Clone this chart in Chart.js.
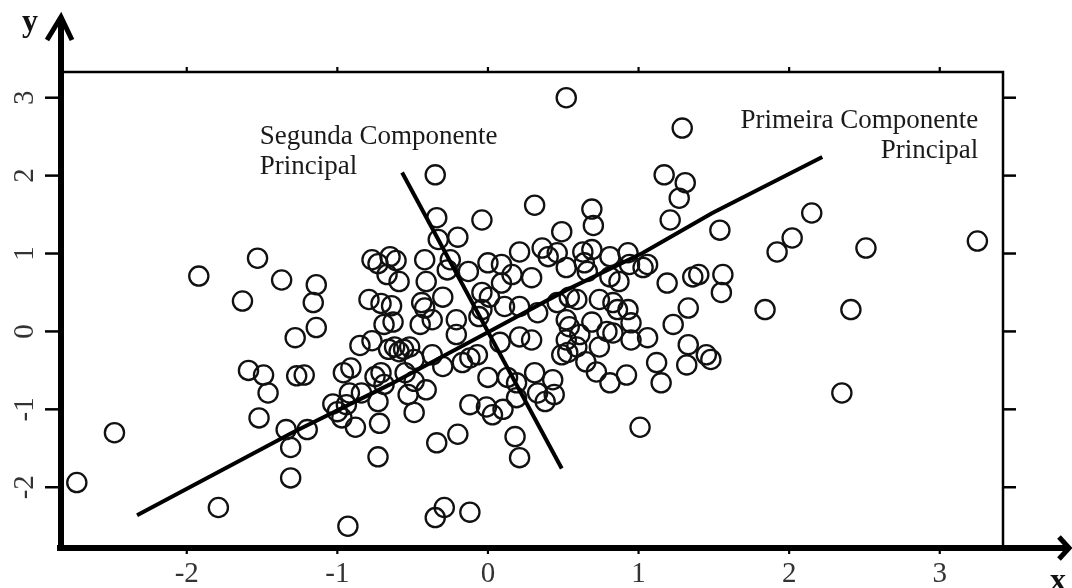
<!DOCTYPE html>
<html><head><meta charset="utf-8">
<script src="https://cdn.jsdelivr.net/npm/chart.js@4"></script>
<style>html,body{margin:0;padding:0;background:#fff;overflow:hidden}#wrap{width:1072px;height:588px}</style>
</head><body><div id="wrap"><canvas id="c" width="1072" height="588"></canvas></div>
<script>
// ---- data ----
const pointsX = [
-2.73,-2.48,-1.92,-1.79,-1.63,-1.53,-1.37,-1.59,-1.49,-1.46,
-1.52,-1.28,-1.27,-1.22,-1.34,-1.31,-1.31,-1.20,-1.14,-1.16,
-1.14,-1.03,-1.00,-0.97,-0.94,-0.93,-0.96,-0.91,-0.88,-0.92,
-0.84,-0.75,-0.73,-0.72,-0.69,-0.73,-0.77,-0.73,-0.65,-0.61,
-0.79,-0.71,-0.64,-0.69,-0.63,-0.85,-0.77,-0.66,-0.62,-0.59,
-0.56,-0.52,-0.71,-0.35,-0.34,-0.20,-0.33,-0.42,-0.25,-0.67,
-0.59,-0.41,-0.27,-0.13,-0.44,-0.42,-0.30,-0.37,-0.21,-0.45,
-0.21,-0.49,-0.37,-0.30,-0.17,-0.12,-0.07,-0.55,-0.49,-0.53,
-0.41,-0.49,-0.34,-0.20,-0.12,-0.35,-0.29,-0.12,0.31,-0.04,
0.49,0.21,0.36,0.40,0.46,0.00,0.09,0.16,0.29,-0.04,
0.01,0.09,0.11,0.21,-0.04,-0.06,0.33,0.46,0.29,0.21,
0.08,0.00,0.13,0.19,0.31,0.43,0.19,0.33,0.38,0.44,
-0.01,0.03,0.10,0.18,0.21,0.52,0.69,0.70,1.17,1.31,
1.27,1.21,1.29,0.63,0.69,0.81,0.93,1.06,1.03,1.19,
0.52,0.64,0.66,0.81,0.87,0.94,0.54,0.59,0.74,0.83,
0.86,0.93,0.95,0.69,0.52,0.54,0.52,0.61,0.79,0.83,
0.95,1.06,1.23,0.49,0.53,0.59,0.65,0.72,0.81,0.92,
0.74,1.12,1.15,1.01,1.33,1.32,1.45,1.48,1.54,1.92,
2.02,2.15,2.51,3.25,1.56,1.36,1.40,1.55,1.33,1.84,
2.41,2.35
];
const pointsY = [
-1.94,-1.30,0.71,-2.26,0.39,0.94,0.66,-0.50,-0.56,-0.79,
-1.11,-0.08,-0.57,-0.56,-1.26,-1.49,-1.88,-1.26,0.60,0.37,
0.05,-0.93,-1.03,-1.11,-0.94,-2.50,-0.53,-0.47,-1.23,-0.79,
-0.79,-0.58,-0.90,-1.18,-0.68,-1.61,0.92,0.87,0.96,0.91,
0.41,0.36,0.33,0.09,0.12,-0.18,-0.12,-0.23,-0.20,-0.26,
-0.23,-0.20,-0.53,2.01,1.46,1.21,1.18,0.92,0.92,0.73,
0.64,0.64,0.79,0.77,0.37,0.30,0.44,0.15,0.15,0.09,
-0.04,-0.36,-0.30,-0.45,-0.40,-0.34,-0.30,-0.53,-0.64,-0.81,
-0.75,-1.04,-1.43,-1.32,-0.94,-2.39,-2.26,-2.32,1.62,1.43,
1.28,1.02,1.07,0.96,1.01,0.88,0.86,0.73,0.69,0.50,
0.44,0.62,0.32,0.32,0.28,0.19,0.24,0.37,-0.11,-0.07,
-0.14,-0.59,-0.59,-0.66,-0.53,-0.62,-0.85,-0.79,-0.90,-0.81,
-0.97,-1.07,-1.00,-1.35,-1.62,3.00,1.57,1.36,2.01,1.91,
1.71,1.43,2.61,1.02,1.05,0.96,1.01,0.86,0.82,0.62,
0.82,0.88,0.77,0.70,0.64,0.86,0.44,0.41,0.41,0.37,
0.28,0.28,0.11,0.12,0.15,0.06,-0.11,-0.04,0.00,-0.02,
-0.11,-0.08,0.09,-0.30,-0.27,-0.20,-0.39,-0.52,-0.66,-0.56,
-0.20,-0.40,-0.66,-1.23,-0.17,-0.43,-0.30,-0.36,1.30,1.02,
1.20,1.52,1.07,1.16,0.73,0.70,0.73,0.50,0.30,0.28,
0.28,-0.79
];
const pc1X = [-2.33,-1.30,-0.65,0.00,0.52,1.03,1.49,2.22];
const pc1Y = [-2.36,-1.30,-0.68,-0.01,0.53,1.01,1.52,2.24];
const pc2X = [-0.57,0.49];
const pc2Y = [2.04,-1.76];
const xTicks = [-2,-1,0,1,2,3];
const yTicks = [-2,-1,0,1,2,3];
const xLimits = [-2.835,3.42];
const yLimits = [-2.78,3.33];
const labelPC2 = ['Segunda Componente','Principal'];
const labelPC1 = ['Primeira Componente','Principal'];
const axisNameX = 'x', axisNameY = 'y';

// ---- build ----
const zip = (a,b)=>a.map((v,i)=>({x:v,y:b[i]}));
const SERIF = "'Liberation Serif','Times New Roman',serif";

const decor = {
  id:'decor',
  afterDraw(chart){
    const ctx = chart.ctx, xs = chart.scales.x, ys = chart.scales.y;
    const {left,right,top,bottom} = chart.chartArea;
    ctx.save();
    ctx.strokeStyle = '#000'; ctx.lineCap='butt';
    // thin top and right frame
    ctx.lineWidth = 2.5;
    ctx.beginPath(); ctx.moveTo(left,top); ctx.lineTo(right,top); ctx.lineTo(right,bottom); ctx.stroke();
    // ticks
    ctx.lineWidth = 2.2;
    xTicks.forEach(v=>{const p=xs.getPixelForValue(v);
      ctx.beginPath(); ctx.moveTo(p,top); ctx.lineTo(p,top-5); ctx.stroke();
      ctx.beginPath(); ctx.moveTo(p,bottom); ctx.lineTo(p,bottom+6); ctx.stroke();});
    ctx.lineWidth = 2.5;
    yTicks.forEach(v=>{const p=ys.getPixelForValue(v);
      ctx.beginPath(); ctx.moveTo(right,p); ctx.lineTo(right+13,p); ctx.stroke();
      ctx.beginPath(); ctx.moveTo(left-16,p); ctx.lineTo(left,p); ctx.stroke();});
    // thick axes with arrows
    ctx.lineWidth = 6;
    ctx.beginPath(); ctx.moveTo(left-4,bottom); ctx.lineTo(1068,bottom); ctx.stroke();
    ctx.beginPath(); ctx.moveTo(left,bottom+3); ctx.lineTo(left,18); ctx.stroke();
    ctx.lineWidth = 5; ctx.lineJoin='miter';
    ctx.beginPath(); ctx.moveTo(1059,537); ctx.lineTo(1069,bottom); ctx.lineTo(1059,559); ctx.stroke();
    ctx.beginPath(); ctx.moveTo(left-14,40); ctx.lineTo(left,17); ctx.lineTo(left+11,40); ctx.stroke();
    // tick labels
    ctx.fillStyle = '#333';
    ctx.font = '29px ' + SERIF;
    ctx.textAlign = 'center'; ctx.textBaseline='alphabetic';
    xTicks.forEach(v=>{ctx.fillText(String(v), xs.getPixelForValue(v), 582);});
    yTicks.forEach(v=>{const p=ys.getPixelForValue(v);
      ctx.save(); ctx.translate(33,p); ctx.rotate(-Math.PI/2); ctx.fillText(String(v),0,0); ctx.restore();});
    // axis names
    ctx.fillStyle = '#111';
    ctx.font = 'bold 32px ' + SERIF;
    ctx.fillText(axisNameY, 30, 31);
    ctx.fillText(axisNameX, 1058, 590);
    // annotations
    ctx.font = '27px ' + SERIF;
    ctx.fillStyle = '#1a1a1a';
    ctx.textAlign = 'left';
    const ax = xs.getPixelForValue(-1.515), ay = ys.getPixelForValue(2.406);
    ctx.fillText(labelPC2[0], ax, ay); ctx.fillText(labelPC2[1], ax, ay+30);
    ctx.textAlign = 'right';
    const bx = xs.getPixelForValue(3.256), by = ys.getPixelForValue(2.612);
    ctx.fillText(labelPC1[0], bx, by); ctx.fillText(labelPC1[1], bx, by+30);
    ctx.restore();
  }
};

new Chart(document.getElementById('c'), {
  type:'scatter',
  data:{datasets:[
    {type:'line', data:zip(pc1X,pc1Y), borderColor:'#000', borderWidth:4, pointRadius:0, tension:0, fill:false, clip:false},
    {type:'line', data:zip(pc2X,pc2Y), borderColor:'#000', borderWidth:4, pointRadius:0, tension:0, fill:false, clip:false},
    {data:zip(pointsX,pointsY), pointStyle:'circle', pointRadius:9.6, pointBorderWidth:2.3,
     borderColor:'#111', backgroundColor:'rgba(0,0,0,0)', clip:false}
  ]},
  options:{
    responsive:false, devicePixelRatio:1, animation:false,
    layout:{padding:{left:61,top:72,right:69,bottom:40}},
    plugins:{legend:{display:false}, tooltip:{enabled:false}},
    scales:{
      x:{type:'linear', min:xLimits[0], max:xLimits[1], display:false},
      y:{type:'linear', min:yLimits[0], max:yLimits[1], display:false}
    },
    events:[]
  },
  plugins:[decor]
});
</script>
</body></html>
